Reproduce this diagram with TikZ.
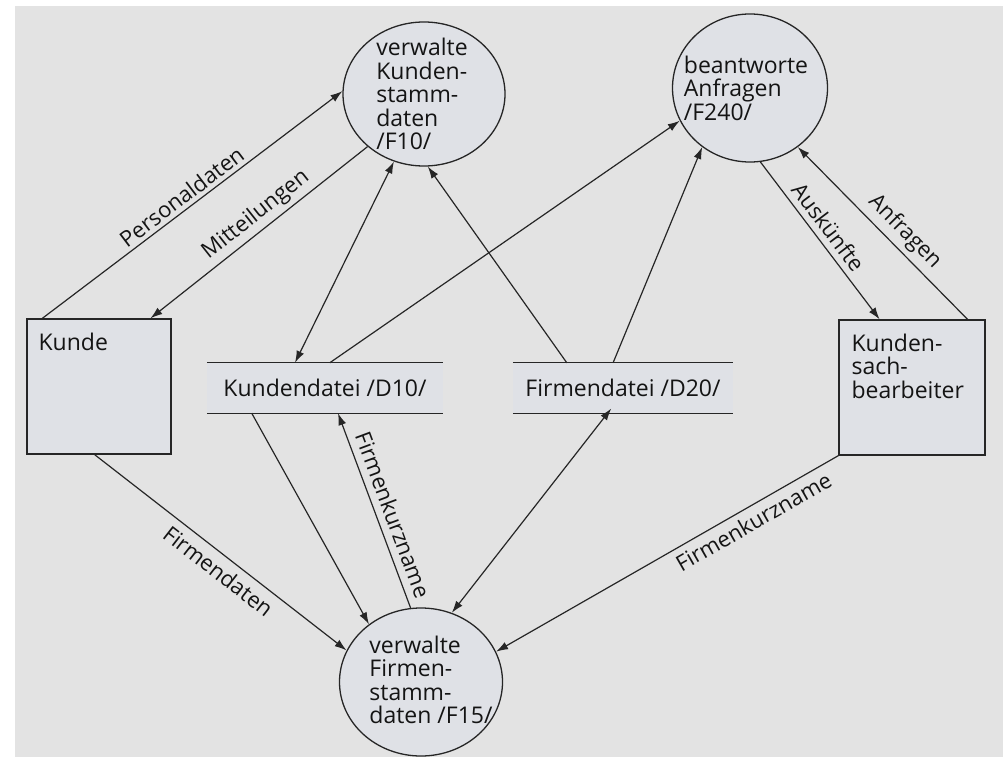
\documentclass[tikz,border=0pt]{standalone}
\usepackage{fontspec}
\setmainfont{Open Sans}
\usetikzlibrary{arrows.meta,shapes.geometric,calc}
\definecolor{paper}{HTML}{E3E3E3}
\definecolor{boxfill}{HTML}{DFE1E6}
\definecolor{ink}{HTML}{262626}
\tikzset{
  base/.style={font=\fontsize{23}{23.5}\selectfont, text=black!92},
  proc/.style={ellipse, draw=ink, line width=1.3pt, fill=boxfill, inner sep=0pt},
  proctext/.style={base, align=left, anchor=center, inner sep=0pt},
  extbox/.style={rectangle, draw=ink, line width=1.3pt, fill=boxfill, inner sep=0pt},
  boxtext/.style={base, align=left, anchor=north west, inner sep=0pt, xshift=12pt, yshift=-14pt},
  store/.style={rectangle, fill=boxfill, inner sep=0pt, base},
  storeline/.style={draw=ink, line width=1.3pt},
  flow/.style={draw=ink, line width=1.2pt, -{Latex[length=12pt,width=8pt]}},
  flowtwo/.style={draw=ink, line width=1.2pt, {Latex[length=12pt,width=8pt]}-{Latex[length=12pt,width=8pt]}},
  lab/.style={font=\fontsize{22}{22}\selectfont, text=black!92, sloped, inner sep=4pt}
}
\begin{document}
\begin{tikzpicture}[x=1pt,y=-1pt]
  % paper
  \fill[white] (0,0) rectangle (1003,757);
  \fill[paper] (15,6) rectangle (1003,757);
  \useasboundingbox (0,0) rectangle (1003,757);

  % processes
  \node[proc, minimum width=162pt, minimum height=144pt,
        label={[proctext, xshift=-2pt]center:{verwalte\\Kunden-\\stamm-\\daten\\/F10/}}] (f10) at (424,94) {};
  \node[proc, minimum width=155pt, minimum height=148pt,
        label={[proctext, xshift=-4pt]center:{beantworte\\Anfragen\\/F240/}}] (f240) at (750,88) {};
  \node[proc, minimum width=163pt, minimum height=148pt,
        label={[proctext, xshift=10pt, yshift=2pt]center:{verwalte\\Firmen-\\stamm-\\daten /F15/}}] (f15) at (421,682) {};

  % external entities
  \node[extbox, minimum width=144pt, minimum height=135pt,
        label={[boxtext]north west:Kunde}] (kunde) at (99,386.5) {};
  \node[extbox, minimum width=146pt, minimum height=135pt,
        label={[boxtext, xshift=1pt]north west:{Kunden-\\sach-\\bearbeiter}}] (kb) at (912,387.5) {};

  % data stores
  \node[store, minimum width=236pt, minimum height=50pt] (kd) at (325,388) {Kundendatei /D10/};
  \node[store, minimum width=220pt, minimum height=50pt] (fd) at (623,388) {Firmendatei /D20/};
  \draw[storeline] (kd.north west) -- (kd.north east);
  \draw[storeline] (kd.south west) -- (kd.south east);
  \draw[storeline] (fd.north west) -- (fd.north east);
  \draw[storeline] (fd.south west) -- (fd.south east);

  % data flows
  \draw[flow] ($(kunde.north west)!0.11!(kunde.north east)$)
      -- node[lab, above, pos=0.49] {Personaldaten} (f10.178);
  \draw[flow] (f10.223)
      -- node[lab, above, pos=0.47] {Mitteilungen} ($(kunde.north west)!0.854!(kunde.north east)$);
  \draw[flowtwo] ($(kd.north west)!0.373!(kd.north east)$) -- (f10.246);
  \draw[flow] ($(fd.north west)!0.245!(fd.north east)$) -- (f10.273);
  \draw[flow] ($(kd.north west)!0.52!(kd.north east)$) -- (f240.205);
  \draw[flow] ($(fd.north west)!0.455!(fd.north east)$) -- (f240.231);
  \draw[flow] (f240.278)
      -- node[lab, above, pos=0.47, inner sep=6pt] {Auskünfte} ($(kb.north west)!0.28!(kb.north east)$);
  \draw[flow] ($(kb.north west)!0.877!(kb.north east)$)
      -- node[lab, above, pos=0.44, inner sep=5pt] {Anfragen} (f240.309);
  \draw[flow] ($(kunde.south west)!0.47!(kunde.south east)$)
      -- node[lab, below, pos=0.53, inner sep=7pt] {Firmendaten} (f15.157);
  \draw[flow] ($(kd.south west)!0.19!(kd.south east)$) -- (f15.132);
  \draw[flow] (f15.98)
      -- node[lab, above, pos=0.45, inner sep=7pt] {Firmenkurzname} ($(kd.south west)!0.555!(kd.south east)$);
  \draw[flowtwo, shorten <=-6pt] ($(fd.south west)!0.43!(fd.south east)$) -- (f15.66);
  \draw[flow] (kb.south west)
      -- node[lab, below, pos=0.27, inner sep=6pt] {Firmenkurzname} (f15.22);
\end{tikzpicture}
\end{document}
